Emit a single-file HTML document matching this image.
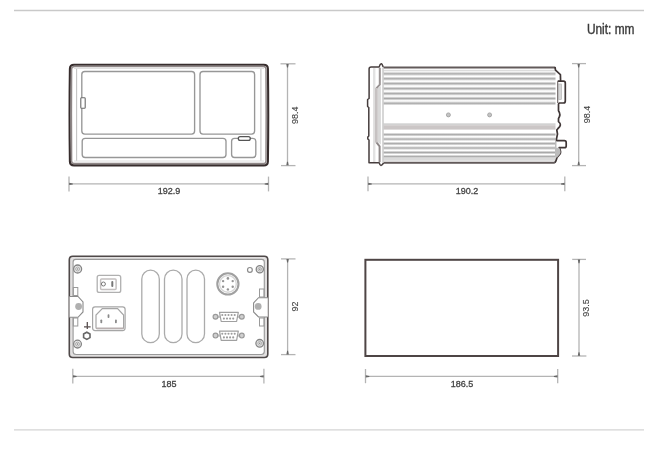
<!DOCTYPE html>
<html><head><meta charset="utf-8">
<style>
html,body{margin:0;padding:0;background:#fff;}
svg{display:block;will-change:transform;}
text{font-family:"Liberation Sans", sans-serif;}
</style></head>
<body>
<svg width="667" height="453" viewBox="0 0 667 453">
<defs><linearGradient id="fin" x1="0" y1="0" x2="0" y2="1"><stop offset="0.05" stop-color="#fff"/><stop offset="0.5" stop-color="#a9a9a9"/><stop offset="0.95" stop-color="#fff"/></linearGradient></defs>
<rect width="667" height="453" fill="#fff"/>
<!-- separators -->
<line x1="14" y1="10.5" x2="644" y2="10.5" stroke="#c9c9c9" stroke-width="1.4"/>
<line x1="14" y1="429.9" x2="644" y2="429.9" stroke="#d4d4d4" stroke-width="1.4"/>
<text stroke="#3a3a3a" stroke-width="0.4" x="586.9" y="34" font-size="14" fill="#3a3a3a" textLength="47.6" lengthAdjust="spacingAndGlyphs">Unit: mm</text>

<!-- ============ FRONT VIEW ============ -->
<g id="front">
  <path d="M74,64.8 L263.8,64.8 Q267.8,64.8 267.9,68.8 Q268.6,114 267.9,161.4 Q267.8,165.4 263.8,165.4 L74,165.4 Q70,165.4 69.9,161.4 Q69.2,114 69.9,68.8 Q70,64.8 74,64.8 Z" fill="none" stroke="#372d2d" stroke-width="2.1"/>
  <path d="M74.5,66.6 L263.5,66.6 Q266,66.6 266,69 L266.2,114 L266,161 Q266,163.6 263.5,163.6 L74.5,163.6 Q71.6,163.6 71.6,161 L71.4,114 L71.6,69 Q71.6,66.6 74.5,66.6 Z" fill="none" stroke="#8e8686" stroke-width="1.5"/>
  <!-- inner bezel light line -->
  <path d="M76.6,68.5 L76.6,161 M260.9,68.5 L260.9,161" fill="none" stroke="#c4c4c4" stroke-width="1.1"/><path d="M74,68.4 L264,68.4 M74,161 L264,161" fill="none" stroke="#dedede" stroke-width="1"/>
  <g fill="none" stroke="#979797" stroke-width="1.35">
    <rect x="81.8" y="71.5" width="112.8" height="62.6" rx="3"/>
    <rect x="200" y="71.5" width="54.6" height="62.6" rx="3"/>
    <rect x="82.2" y="138.3" width="143.8" height="19.2" rx="3"/>
    <rect x="231.6" y="138.3" width="24.2" height="19.2" rx="3"/>
  </g>
  <rect x="238.3" y="136.6" width="12" height="3.8" rx="1.9" fill="#fff" stroke="#555" stroke-width="1.3"/>
  <rect x="80.8" y="97.8" width="4.4" height="10.4" rx="0.8" fill="#fff" stroke="#6a6a6a" stroke-width="1.1"/>
</g>
<!-- front dims -->
<g stroke="#b4b4b4" stroke-width="1.3" fill="none">
  <line x1="287.5" y1="64" x2="287.5" y2="165.5"/>
  <line x1="280.5" y1="63.8" x2="295.5" y2="63.8"/>
  <line x1="281" y1="165.6" x2="295.5" y2="165.6"/>
  <line x1="69" y1="183.9" x2="268.5" y2="183.9"/>
  <line x1="69" y1="176.6" x2="69" y2="191.4"/>
  <line x1="268.5" y1="176.6" x2="268.5" y2="191.4"/>
</g>
<g fill="#666">
  <path d="M286.3,64.0 L288.7,64.0 L288.0,67.6 L287.0,67.6 Z"/>
  <path d="M286.3,165.3 L288.7,165.3 L288.0,161.7 L287.0,161.7 Z"/>
  <path d="M69.2,182.7 L69.2,185.1 L72.8,184.4 L72.8,183.4 Z"/>
  <path d="M268.3,182.7 L268.3,185.1 L264.7,184.4 L264.7,183.4 Z"/>
</g>
<text stroke="#444" stroke-width="0.3" x="169" y="193.8" font-size="9" fill="#444" text-anchor="middle">192.9</text>
<text stroke="#444" stroke-width="0.12" transform="translate(298.3,115.3) rotate(-90)" x="0" y="0" font-size="9" fill="#444" text-anchor="middle">98.4</text>

<!-- ============ SIDE VIEW ============ -->
<g id="side">
  <!-- bezel fills -->
  <rect x="373" y="68" width="2.4" height="94.5" fill="#e2e2e2"/>
  <path d="M380.9,86 L377.6,88.6 L377.6,142 L380.9,144.6 Z" fill="#d8d8d8"/>
  <!-- fins -->
  <rect x="383.5" y="69.8" width="172" height="2.9" fill="#dcdcdc"/>
  <g fill="url(#fin)"><rect x="383.5" y="71.35" width="172" height="4.9"/><rect x="383.5" y="76.25" width="172" height="4.9"/><rect x="383.5" y="81.15" width="172" height="4.9"/><rect x="383.5" y="86.15" width="172" height="4.9"/><rect x="383.5" y="91.15" width="172" height="4.9"/><rect x="383.5" y="96.05" width="172" height="4.9"/><rect x="383.5" y="100.85" width="172" height="4.9"/><rect x="383.5" y="132.35" width="172" height="4.5"/><rect x="383.5" y="136.85" width="172" height="4.5"/><rect x="383.5" y="141.35" width="172" height="4.5"/><rect x="383.5" y="145.75" width="172" height="4.5"/><rect x="383.5" y="150.25" width="172" height="4.5"/><rect x="383.5" y="154.35" width="172" height="4.5"/></g>
  <rect x="383.5" y="123.3" width="172" height="1.8" fill="#d2d2d2"/>
  <rect x="383.5" y="125.2" width="172" height="4.4" fill="#cbc6c6"/>
  <rect x="383.5" y="157.8" width="172" height="3" fill="#dadada"/>
  <!-- holes -->
  <circle cx="448.4" cy="114.9" r="2" fill="#c4c4c4" stroke="#9a9a9a" stroke-width="0.8"/>
  <circle cx="489.6" cy="114.9" r="2" fill="#c4c4c4" stroke="#9a9a9a" stroke-width="0.8"/>
  <!-- top / bottom edges -->
  <path d="M383.5,67.4 L555,67.4 M383.5,162.8 L554.8,162.8" stroke="#625a5a" stroke-width="2" fill="none"/>
  
  <!-- bezel outline -->
  <path d="M383.6,66.8 L383,66.6 Q382,63.5 381.2,63.8 Q380,64 379.2,66.9 L371.2,66.9 Q369.1,66.9 369.1,69 L369.1,98.5 L367.6,99.5 L367.6,106.5 L368.8,107.5 L368.8,136 L367.8,137 L367.8,139 L369,140 L369,162.7 L379.2,162.7 Q380,165.5 381,165.4 Q382.3,165.3 383.6,162.8" fill="none" stroke="#463d3d" stroke-width="1.5" stroke-linejoin="round"/>
  <path d="M379.8,67.8 L379.8,84.7 L376.3,88.4" fill="none" stroke="#9a9494" stroke-width="2"/>
  <path d="M376.3,142.2 L379.6,146.3 L379.6,162.2" fill="none" stroke="#8e8888" stroke-width="2"/>
  <line x1="376.3" y1="88" x2="376.3" y2="142.5" stroke="#c6c2c2" stroke-width="2.8"/>
  <line x1="383" y1="67.8" x2="383" y2="162.4" stroke="#c2c2c2" stroke-width="1.3"/>
  <!-- right profile -->
  <path d="M555,67 L555.5,70.2 L560.4,74.6 L560.6,81.2 M557.7,81.2 L563.5,81.2 Q565.3,81.2 565.3,83 L565.3,101 Q565.3,103 563.5,103 L559.3,103 L558.5,104 L558.5,110.8 Q561.2,114.6 558.5,118.5 L558.5,121.6 Q562.5,124.7 558,128.5 L556.8,130 L557.5,134 L556.5,138.8 L556.5,140.6 L564.4,140.6 Q566.2,140.6 566.2,142.4 L566.2,146 Q566.2,147.7 564.4,147.7 L559.1,147.7 Q561.5,151.5 560,154 L557,157.5 L556,160.8 L554.8,162.8" fill="none" stroke="#3f3636" stroke-width="1.7" stroke-linejoin="round"/>
  <path d="M557.7,81.2 L557.7,103" fill="none" stroke="#6a6262" stroke-width="1.1"/>
  <rect x="558.4" y="84" width="3" height="15.5" fill="#d6d6d6" stroke="#aaa" stroke-width="0.6"/>
  <path d="M555,141 L556.5,141 L556.5,147.7 L559.1,147.7 Q561.5,151.5 560,154 L557,157.5 L555,157.5 Z" fill="#bcbcbc"/>
</g>
<!-- side dims -->
<g stroke="#b4b4b4" stroke-width="1.3" fill="none">
  <line x1="578.7" y1="64" x2="578.7" y2="165.5"/>
  <line x1="572" y1="63.6" x2="586" y2="63.6"/>
  <line x1="572" y1="165.6" x2="586" y2="165.6"/>
  <line x1="368" y1="183.9" x2="564.8" y2="183.9"/>
  <line x1="368" y1="176.6" x2="368" y2="191.2"/>
  <line x1="564.8" y1="176.6" x2="564.8" y2="191.2"/>
</g>
<g fill="#666">
  <path d="M577.5,64.0 L579.9,64.0 L579.2,67.6 L578.2,67.6 Z"/>
  <path d="M577.5,165.3 L579.9,165.3 L579.2,161.7 L578.2,161.7 Z"/>
  <path d="M368.2,182.7 L368.2,185.1 L371.8,184.4 L371.8,183.4 Z"/>
  <path d="M564.6,182.7 L564.6,185.1 L561.0,184.4 L561.0,183.4 Z"/>
</g>
<text stroke="#444" stroke-width="0.3" x="466.9" y="193.8" font-size="9" fill="#444" text-anchor="middle">190.2</text>
<text stroke="#444" stroke-width="0.12" transform="translate(589.5,114.5) rotate(-90)" x="0" y="0" font-size="9" fill="#444" text-anchor="middle">98.4</text>

<!-- ============ REAR VIEW ============ -->
<g id="rear">
  <!-- outer -->
  <path d="M69.3,259.8 Q69.3,256.3 72.8,256.3 L264.3,256.3 Q267.8,256.3 267.8,259.8 L267.8,354 Q267.8,357.5 264.3,357.5 L72.8,357.5 Q69.3,357.5 69.3,354 Z M73.1,262 L73.1,351.5 Q73.1,354.5 76.1,354.5 L261.3,354.5 Q264.3,354.5 264.3,351.5 L264.3,262 Q264.3,259.4 261.7,259.4 L75.7,259.4 Q73.1,259.4 73.1,262 Z" fill="#e2e0e0" fill-rule="evenodd"/>
  <path d="M72.8,256.3 L264.3,256.3 Q267.8,256.3 267.8,259.8 L267.8,354 Q267.8,357.5 264.3,357.5 L72.8,357.5 Q69.3,357.5 69.3,354 L69.3,259.8 Q69.3,256.3 72.8,256.3 Z" fill="none" stroke="#4f4949" stroke-width="1.6"/>
  <path d="M73.1,262 L73.1,351.5 Q73.1,354.5 76.1,354.5 L261.3,354.5 Q264.3,354.5 264.3,351.5 L264.3,262 Q264.3,259.4 261.7,259.4 L75.7,259.4 Q73.1,259.4 73.1,262 Z" fill="none" stroke="#999" stroke-width="1.1"/>
  <!-- brackets -->
  <path d="M69.5,296.5 L78,296.5 L83,302 L83,312 L78,317.3 L69.5,317.3" fill="#fff" stroke="#8a8a8a" stroke-width="1.1"/>
  <circle cx="78.6" cy="306.5" r="3.4" fill="#b0b0b0"/>
  <path d="M267.8,297.7 L258.5,297.7 L253.6,303 L253.6,312 L258.5,317 L267.8,317" fill="#fff" stroke="#8a8a8a" stroke-width="1.1"/>
  <circle cx="258.2" cy="306.4" r="3.4" fill="#b0b0b0"/>
  <!-- small notches -->
  <g fill="none" stroke="#9a9a9a" stroke-width="1">
    <rect x="73.3" y="287.5" width="4.5" height="8"/>
    <rect x="73.3" y="318" width="4.5" height="8"/>
    <rect x="259.5" y="289" width="4.5" height="8"/>
    <rect x="259.5" y="318" width="4.5" height="8"/>
  </g>
  <!-- screws -->
  <g fill="#eaeaea" stroke="#858585" stroke-width="1.3">
    <circle cx="77.6" cy="269" r="4"/>
    <circle cx="77.5" cy="344.1" r="3.9"/>
    <circle cx="259.8" cy="269.3" r="3.6"/>
    <circle cx="259.7" cy="343.3" r="3.8"/>
  </g>
  <g fill="none" stroke="#a5a5a5" stroke-width="0.9">
    <circle cx="77.6" cy="269" r="2"/>
    <circle cx="77.5" cy="344.1" r="2"/>
    <circle cx="259.8" cy="269.3" r="1.8"/>
    <circle cx="259.7" cy="343.3" r="1.9"/>
  </g>
  <g fill="#888">
    <circle cx="77.6" cy="269" r="0.8"/>
    <circle cx="77.5" cy="344.1" r="0.8"/>
    <circle cx="259.8" cy="269.3" r="0.8"/>
    <circle cx="259.7" cy="343.3" r="0.8"/>
  </g>
  <circle cx="249.9" cy="269.9" r="2.4" fill="none" stroke="#8c8c8c" stroke-width="1.2"/>
  <!-- switch -->
  <rect x="97.2" y="275.4" width="23.5" height="17" rx="2" fill="none" stroke="#b0b0b0" stroke-width="1.3"/>
  <rect x="100.6" y="278.9" width="15.5" height="10.6" rx="1" fill="none" stroke="#c4c0c0" stroke-width="1.5"/>
  <circle cx="103.4" cy="284" r="2" fill="none" stroke="#777" stroke-width="1"/>
  <rect x="111.3" y="281" width="2" height="6" rx="1" fill="#777"/>
  <!-- power inlet -->
  <rect x="92.6" y="306.8" width="32.5" height="23.8" rx="2.5" fill="none" stroke="#a6a6a6" stroke-width="1.2"/>
  <path d="M102.3,308.6 L117.6,308.6 L123.6,315 L123.6,327.6 Q123.6,328.6 122.6,328.6 L97,328.6 Q96,328.6 96,327.6 L96,315 Z" fill="none" stroke="#a6a6a6" stroke-width="1.2"/>
  <line x1="96.3" y1="328.3" x2="123.3" y2="328.3" stroke="#b9b0b0" stroke-width="1.6"/>
  <g fill="#8a8a8a">
    <rect x="107.6" y="314.2" width="1.8" height="3.8" rx="0.8"/>
    <rect x="100.4" y="319.4" width="1.8" height="3.8" rx="0.8"/>
    <rect x="115" y="319.4" width="1.8" height="3.8" rx="0.8"/>
  </g>
  <!-- ground symbol -->
  <path d="M87.3,322 L87.3,329 M84,326.8 L90.6,326.8" stroke="#5a5050" stroke-width="1.3" fill="none"/>
  <path d="M83.6,334 L86.8,332.2 L90,334 L90,337.6 L86.8,339.4 L83.6,337.6 Z" fill="none" stroke="#666" stroke-width="1.6"/>
  <!-- slots -->
  <g fill="none" stroke="#ababab" stroke-width="1.3">
    <rect x="141.8" y="270.2" width="17.5" height="72.5" rx="8.75"/>
    <rect x="164.5" y="270.2" width="17.5" height="72.5" rx="8.75"/>
    <rect x="187" y="270.2" width="17.5" height="72.5" rx="8.75"/>
  </g>
  <!-- DIN -->
  <circle cx="227.9" cy="283.9" r="10.6" fill="none" stroke="#a0a0a0" stroke-width="2.1"/>
  <circle cx="227.9" cy="283.9" r="8.4" fill="none" stroke="#d6d6d6" stroke-width="1.4"/>
  <g fill="#949494">
    <circle cx="227.9" cy="278.4" r="1.3"/>
    <circle cx="227.9" cy="289.4" r="1.2"/>
    <circle cx="223.1" cy="281.1" r="1.2"/>
    <circle cx="232.7" cy="281.1" r="1.2"/>
    <circle cx="223.1" cy="286.7" r="1.2"/>
    <circle cx="232.7" cy="286.7" r="1.2"/>
  </g>
  <!-- DB9 x2 -->
  <g id="db9a">
    <line x1="215.5" y1="316.8" x2="241.8" y2="316.8" stroke="#c8c8c8" stroke-width="2.2"/>
    <circle cx="215.5" cy="316.8" r="2.4" fill="#d0d0d0" stroke="#9a9a9a" stroke-width="1.2"/>
    <circle cx="241.8" cy="316.8" r="2.4" fill="#d0d0d0" stroke="#9a9a9a" stroke-width="1.2"/>
    <path d="M219.5,312.3 L238.3,312.3 L236.6,321.5 L221.2,321.5 Z" fill="#fff" stroke="#a0a0a0" stroke-width="1.2" stroke-linejoin="round"/>
    <g fill="#9c9c9c">
      <circle cx="222.3" cy="315" r="1.05"/><circle cx="225.4" cy="315" r="1.05"/><circle cx="228.5" cy="315" r="1.05"/><circle cx="231.6" cy="315" r="1.05"/><circle cx="234.7" cy="315" r="1.05"/>
      <circle cx="223.9" cy="318.6" r="1.05"/><circle cx="227" cy="318.6" r="1.05"/><circle cx="230.1" cy="318.6" r="1.05"/><circle cx="233.2" cy="318.6" r="1.05"/>
    </g>
  </g>
  <g transform="translate(0,18.8)">
    <line x1="215.5" y1="316.8" x2="241.8" y2="316.8" stroke="#c8c8c8" stroke-width="2.2"/>
    <circle cx="215.5" cy="316.8" r="2.4" fill="#d0d0d0" stroke="#9a9a9a" stroke-width="1.2"/>
    <circle cx="241.8" cy="316.8" r="2.4" fill="#d0d0d0" stroke="#9a9a9a" stroke-width="1.2"/>
    <path d="M219.5,312.3 L238.3,312.3 L236.6,321.5 L221.2,321.5 Z" fill="#fff" stroke="#a0a0a0" stroke-width="1.2" stroke-linejoin="round"/>
    <g fill="#9c9c9c">
      <circle cx="222.3" cy="315" r="1.05"/><circle cx="225.4" cy="315" r="1.05"/><circle cx="228.5" cy="315" r="1.05"/><circle cx="231.6" cy="315" r="1.05"/><circle cx="234.7" cy="315" r="1.05"/>
      <circle cx="223.9" cy="318.6" r="1.05"/><circle cx="227" cy="318.6" r="1.05"/><circle cx="230.1" cy="318.6" r="1.05"/><circle cx="233.2" cy="318.6" r="1.05"/>
    </g>
  </g>
</g>
<!-- rear dims -->
<g stroke="#b4b4b4" stroke-width="1.3" fill="none">
  <line x1="287.6" y1="259" x2="287.6" y2="354.6"/>
  <line x1="281" y1="258.9" x2="295.5" y2="258.9"/>
  <line x1="281" y1="354.6" x2="295.5" y2="354.6"/>
  <line x1="72.8" y1="376.4" x2="263.9" y2="376.4"/>
  <line x1="72.8" y1="368.8" x2="72.8" y2="383.4"/>
  <line x1="263.9" y1="368.8" x2="263.9" y2="383.4"/>
</g>
<g fill="#666">
  <path d="M286.4,259.0 L288.8,259.0 L288.1,262.6 L287.1,262.6 Z"/>
  <path d="M286.4,354.4 L288.8,354.4 L288.1,350.8 L287.1,350.8 Z"/>
  <path d="M73.0,375.2 L73.0,377.6 L76.6,376.9 L76.6,375.9 Z"/>
  <path d="M263.7,375.2 L263.7,377.6 L260.1,376.9 L260.1,375.9 Z"/>
</g>
<text stroke="#444" stroke-width="0.3" x="168.9" y="386.8" font-size="9" fill="#444" text-anchor="middle">185</text>
<text stroke="#444" stroke-width="0.12" transform="translate(298.3,306.6) rotate(-90)" x="0" y="0" font-size="9" fill="#444" text-anchor="middle">92</text>

<!-- ============ BOX VIEW ============ -->
<rect x="365.4" y="259.8" width="192.7" height="96.2" fill="none" stroke="#4e4545" stroke-width="2"/>
<g stroke="#b4b4b4" stroke-width="1.3" fill="none">
  <line x1="579" y1="259.6" x2="579" y2="356"/>
  <line x1="572.2" y1="259.4" x2="586" y2="259.4"/>
  <line x1="572" y1="356" x2="586.4" y2="356"/>
  <line x1="365.5" y1="376.4" x2="557.7" y2="376.4"/>
  <line x1="365.5" y1="369" x2="365.5" y2="383.2"/>
  <line x1="557.7" y1="369" x2="557.7" y2="383.2"/>
</g>
<g fill="#666">
  <path d="M577.8,259.6 L580.2,259.6 L579.5,263.2 L578.5,263.2 Z"/>
  <path d="M577.8,355.8 L580.2,355.8 L579.5,352.2 L578.5,352.2 Z"/>
  <path d="M365.7,375.2 L365.7,377.6 L369.3,376.9 L369.3,375.9 Z"/>
  <path d="M557.5,375.2 L557.5,377.6 L553.9,376.9 L553.9,375.9 Z"/>
</g>
<text stroke="#444" stroke-width="0.3" x="461.9" y="387.1" font-size="9" fill="#444" text-anchor="middle">186.5</text>
<text stroke="#444" stroke-width="0.12" transform="translate(589.3,308) rotate(-90)" x="0" y="0" font-size="9" fill="#444" text-anchor="middle">93.5</text>
</svg>
</body></html>
